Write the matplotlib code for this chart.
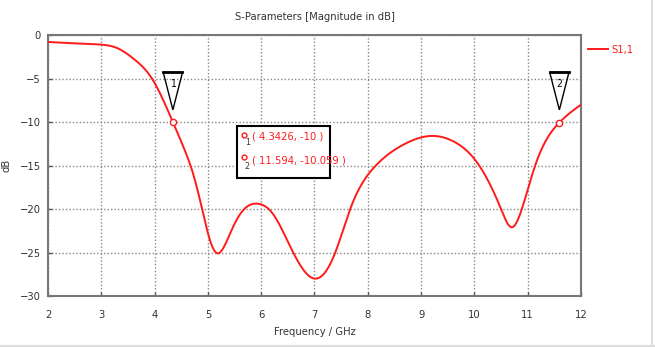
import numpy as np
import matplotlib
matplotlib.use("Agg")
import matplotlib.pyplot as plt
from matplotlib.patches import Polygon, Rectangle

freq = [2.0, 2.5, 3.0, 3.3, 3.6, 3.95, 4.3426, 4.55, 4.72, 4.88, 5.05, 5.18,
        5.33, 5.5, 5.7, 5.95, 6.2, 6.6, 7.04, 7.39, 7.67, 8.15, 8.7, 9.18, 9.6,
        10.09, 10.5, 10.7, 10.89, 11.14, 11.594, 12.0]
s11 = [-0.8, -0.95, -1.1, -1.5, -2.7, -5.0, -10.0, -13.0, -15.9, -19.7, -23.8, -25.1,
       -24.0, -21.7, -19.9, -19.4, -20.4, -25.0, -28.0, -25.0, -20.0, -15.0, -12.5, -11.6, -12.2,
       -15.0, -20.0, -22.1, -20.0, -15.0, -10.059, -8.0]

marker_x = [4.3426, 11.594]
marker_y = [-10.0, -10.059]
marker_ids = ["1", "2"]

xticks = [2, 3, 4, 5, 6, 7, 8, 9, 10, 11, 12]
yticks = [0, -5, -10, -15, -20, -25, -30]

plt.rcParams['font.family'] = ["Liberation Sans Narrow", "DejaVu Sans"]
plt.rcParams['font.stretch'] = 'condensed'


def natural_spline(x, y, xn):
    x = np.asarray(x, float); y = np.asarray(y, float)
    n = len(x); h = np.diff(x)
    A = np.zeros((n, n)); r = np.zeros(n)
    A[0, 0] = 1; A[-1, -1] = 1
    for i in range(1, n - 1):
        A[i, i-1] = h[i-1]; A[i, i] = 2*(h[i-1] + h[i]); A[i, i+1] = h[i]
        r[i] = 6*((y[i+1] - y[i])/h[i] - (y[i] - y[i-1])/h[i-1])
    M = np.linalg.solve(A, r)
    idx = np.clip(np.searchsorted(x, xn) - 1, 0, n - 2)
    xi, xj = x[idx], x[idx+1]; hi = h[idx]
    return (M[idx]*(xj - xn)**3/(6*hi) + M[idx+1]*(xn - xi)**3/(6*hi)
            + (y[idx]/hi - M[idx]*hi/6)*(xj - xn) + (y[idx+1]/hi - M[idx+1]*hi/6)*(xn - xi))


fig = plt.figure(figsize=(6.55, 3.47), dpi=100)
ax = fig.add_axes([0.0733, 0.147, 0.887 - 0.0733, 0.899 - 0.147])

cx = np.linspace(freq[0], freq[-1], 2000)
cy = natural_spline(freq, s11, cx)
ax.plot(cx, cy, color="#ff1a1a", lw=1.4, label="S1,1", zorder=3)

ax.plot(marker_x, marker_y, 'o', ms=4.5, mfc="white", mec="#ff1a1a", mew=1.0, zorder=4)

for mx, my, mid in zip(marker_x, marker_y, marker_ids):
    tri = Polygon([[mx - 0.18, -4.3], [mx + 0.18, -4.3], [mx, -8.6]], closed=True,
                  fill=False, ec="black", lw=1.0, zorder=5)
    ax.add_patch(tri)
    ax.plot([mx - 0.18, mx + 0.18], [-4.3, -4.3], color="black", lw=2.0, zorder=5)
    ax.text(mx, -5.6, mid, ha="center", va="center", fontsize=7.5, color="black", zorder=6)

# marker info box
box = Rectangle((5.55, -16.4), 1.75, 6.0, fill=True, fc="white", ec="black", lw=1.5, zorder=5)
ax.add_patch(box)
ax.plot([5.67, 5.67], [-11.5, -14.0], 'o', ms=3.5, mfc="white", mec="#ff1a1a", mew=1.0, zorder=6)
ax.text(5.69, -12.4, "1", fontsize=6.5, va="center", ha="left", zorder=6, color="#333333")
ax.text(5.69, -15.1, "2", fontsize=6.5, va="center", ha="left", zorder=6, color="#333333")
ax.text(5.82, -11.7, "( 4.3426, -10 )", fontsize=8, color="#ff1a1a", va="center", ha="left", zorder=6)
ax.text(5.82, -14.4, "( 11.594, -10.059 )", fontsize=8, color="#ff1a1a", va="center", ha="left", zorder=6)

ax.set_xlim(2, 12)
ax.set_ylim(-30, 0)
ax.set_xticks(xticks)
ax.set_yticks(yticks)
ax.tick_params(labelsize=8, direction="in", length=3, width=1, colors="#555555", labelcolor="#333333")
ax.tick_params(axis="x", pad=10)
ax.tick_params(axis="y", pad=5)
ax.grid(True, linestyle=(0, (1, 1.5)), color="#888888", lw=1.0)
for s in ax.spines.values():
    s.set_color("#777777"); s.set_linewidth(1.5)

ax.set_title("S-Parameters [Magnitude in dB]", fontsize=8, color="#333333", pad=11)
ax.set_xlabel("Frequency / GHz", fontsize=8, color="#333333", labelpad=5)
ax.set_ylabel("dB", fontsize=8, color="#333333", labelpad=6)

leg = ax.legend(loc="upper left", bbox_to_anchor=(0.995, 1.0), frameon=False, fontsize=8,
                handlelength=1.8, handletextpad=0.3)
for t in leg.get_texts():
    t.set_color("#ff1a1a")

fig.add_artist(plt.Line2D([0.995, 0.995], [0.0, 1.0], color="#dddddd", lw=1.5))
fig.add_artist(plt.Line2D([0.0, 1.0], [0.004, 0.004], color="#dddddd", lw=1.5))

fig.savefig("out.png", dpi=100)
